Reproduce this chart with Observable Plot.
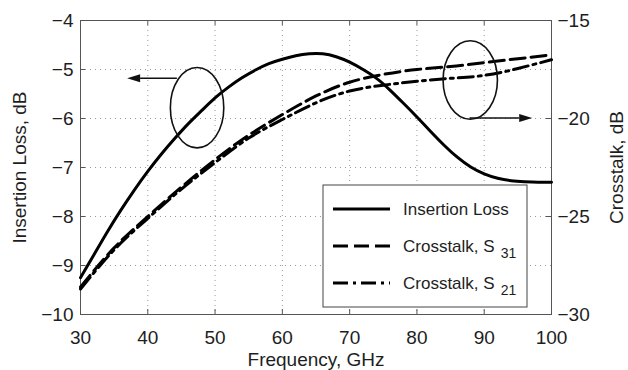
<!DOCTYPE html>
<html><head><meta charset="utf-8">
<script src="https://cdn.jsdelivr.net/npm/d3@7"></script>
<script src="https://cdn.jsdelivr.net/npm/@observablehq/plot@0.6"></script>
<style>body{margin:0;background:#fff}</style>
</head><body><div id="chart"></div>
<script>
// ---- data ----
const freqIL = [30,32,34,36,38,40,42,44,46,48,50,52,54,56,58,60,62,64,66,68,70,72,74,76,78,80,82,84,86,88,90,92,94,96,98,100];
const insertionLoss = [-9.25,-8.78,-8.31,-7.87,-7.46,-7.08,-6.73,-6.41,-6.11,-5.84,-5.58,-5.36,-5.17,-5.01,-4.88,-4.79,-4.72,-4.68,-4.68,-4.74,-4.85,-5.00,-5.18,-5.42,-5.69,-5.97,-6.26,-6.54,-6.79,-6.99,-7.13,-7.22,-7.27,-7.29,-7.30,-7.30];
const freqCT = [30,35,40,45,50,55,60,65,70,75,80,85,90,95,100];
const crosstalkS31 = [-28.6,-26.6,-25.0,-23.5,-22.1,-20.85,-19.8,-18.85,-18.15,-17.75,-17.5,-17.35,-17.15,-16.95,-16.75];
const crosstalkS21 = [-28.7,-26.7,-25.1,-23.6,-22.25,-21.0,-20.05,-19.2,-18.6,-18.3,-18.1,-17.95,-17.8,-17.45,-17.0];
const xTicks = [30,40,50,60,70,80,90,100];
const leftTicks = [-10,-9,-8,-7,-6,-5,-4];
const rightTicks = [-30,-25,-20,-15];
const seriesNames = ["Insertion Loss","Crosstalk, S","Crosstalk, S"];
const seriesSubs = [null,"31","21"];
// annotation ellipses (data units; right-axis values for the crosstalk one)
const annLeft = {cx:47.4, cy:-5.79, rx:3.97, ry:0.82, ay:-5.19, ax1:44.4, ax2:37.0};
const annRight = {cx:88.0, cyR:-18.06, rx:4.04, ryR:2.0, ayR:-20.0, ax1:87.9, ax2:97.2};

// right axis (-30..-15) mapped onto left axis (-10..-4)
const toLeft = r => -4 + (r + 15) * 0.4;
const fromLeft = v => Math.round((v + 4) / 0.4 - 15);
const fmt = n => (n < 0 ? "\u2212" : "") + Math.abs(n);

const ilData = freqIL.map((f,i) => ({f, v: insertionLoss[i]}));
const s31Data = freqCT.map((f,i) => ({f, v: toLeft(crosstalkS31[i])}));
const s21Data = freqCT.map((f,i) => ({f, v: toLeft(crosstalkS21[i])}));

const W = 628, H = 370, mL = 80, mR = 77, mT = 20, mB = 56;
const innerW = W - mL - mR, innerH = H - mT - mB;
const axisCol = "#555", textCol = "#1e1e1e", gridCol = "#9a9a9a";

const chart = Plot.plot({
  width: W, height: H,
  marginLeft: mL, marginRight: mR, marginTop: mT, marginBottom: mB,
  style: {fontFamily: "'Liberation Sans', Arial, sans-serif", fontSize: "19px", color: textCol, background: "#fff", overflow: "visible"},
  x: {domain: [30,100], label: null},
  y: {domain: [-10,-4], label: null},
  marks: [
    Plot.gridX(xTicks.slice(1,-1), {stroke: gridCol, strokeOpacity: 1, strokeDasharray: "1,4"}),
    Plot.gridY(leftTicks.slice(1,-1), {stroke: gridCol, strokeOpacity: 1, strokeDasharray: "1,4"}),
    Plot.frame({stroke: axisCol, strokeWidth: 1}),
    Plot.tickX(xTicks, {x: d => d, insetTop: innerH - 5, stroke: axisCol}),
    Plot.tickX(xTicks, {x: d => d, insetBottom: innerH - 5, stroke: axisCol}),
    Plot.tickY(leftTicks, {y: d => d, insetRight: innerW - 5, stroke: axisCol}),
    Plot.tickY(rightTicks.map(toLeft), {y: d => d, insetLeft: innerW - 5, stroke: axisCol}),
    Plot.axisX(xTicks, {tickSize: 0, tickPadding: 16, fill: textCol}),
    Plot.axisY(leftTicks, {anchor: "left", tickSize: 0, tickPadding: 7, fill: textCol, tickFormat: fmt}),
    Plot.axisY(rightTicks.map(toLeft), {anchor: "right", tickSize: 0, tickPadding: 6, fill: textCol, tickFormat: v => fmt(fromLeft(v))}),
    Plot.text(["Insertion Loss, dB"], {text: d => d, frameAnchor: "left", textAnchor: "middle", dx: -61, rotate: -90, lineAnchor: "middle", fill: textCol}),
    Plot.text(["Crosstalk, dB"], {text: d => d, frameAnchor: "right", textAnchor: "middle", dx: 65, rotate: -90, lineAnchor: "middle", fill: textCol}),
    Plot.text(["Frequency, GHz"], {text: d => d, frameAnchor: "bottom", textAnchor: "middle", dy: 45, lineAnchor: "middle", fill: textCol}),
    Plot.line(s21Data, {x: "f", y: "v", stroke: "#000", strokeWidth: 3, curve: "natural", strokeDasharray: "15,5,3,5"}),
    Plot.line(s31Data, {x: "f", y: "v", stroke: "#000", strokeWidth: 3, curve: "natural", strokeDasharray: "15,6"}),
    Plot.line(ilData, {x: "f", y: "v", stroke: "#000", strokeWidth: 3, curve: "natural"})
  ]
});

const sx = chart.scale("x"), sy = chart.scale("y");
const svg = d3.select(chart);

// annotations
function annotate(cx, cy, rx, ry, ay, ax1, ax2) {
  const g = svg.append("g");
  const px = sx.apply(cx), py = sy.apply(cy);
  const prx = Math.abs(sx.apply(cx + rx) - px), pry = Math.abs(sy.apply(cy + ry) - py);
  g.append("ellipse").attr("cx", px).attr("cy", py).attr("rx", prx).attr("ry", pry)
    .attr("fill", "none").attr("stroke", "#111").attr("stroke-width", 1.6);
  const y = sy.apply(ay), x1 = sx.apply(ax1), x2 = sx.apply(ax2);
  const dir = Math.sign(x2 - x1), L = 13, hw = 4;
  g.append("line").attr("x1", x1).attr("y1", y).attr("x2", x2 - dir * L).attr("y2", y)
    .attr("stroke", "#111").attr("stroke-width", 1.6);
  g.append("path").attr("d", `M${x2},${y}L${x2 - dir*L},${y - hw}L${x2 - dir*L},${y + hw}Z`).attr("fill", "#111");
}
annotate(annLeft.cx, annLeft.cy, annLeft.rx, annLeft.ry, annLeft.ay, annLeft.ax1, annLeft.ax2);
annotate(annRight.cx, toLeft(annRight.cyR), annRight.rx, annRight.ryR * 0.4, toLeft(annRight.ayR), annRight.ax1, annRight.ax2);

// legend (inside the frame, bottom-right)
const fr = W - mR, fb = H - mB;
const lg = svg.append("g").attr("font-family", "'Liberation Sans', Arial, sans-serif").attr("text-anchor", "start");
const bx = fr - 228, by = fb - 129, bw = 204, bh = 122;
lg.append("rect").attr("x", bx).attr("y", by).attr("width", bw).attr("height", bh)
  .attr("fill", "#fff").attr("stroke", "#444").attr("stroke-width", 1);
const dashes = [null, "15,6", "15,5,3,5"];
seriesNames.forEach((name, i) => {
  const yy = by + 24 + i * 37;
  const ln = lg.append("line").attr("x1", bx + 10).attr("x2", bx + 67).attr("y1", yy).attr("y2", yy)
    .attr("stroke", "#000").attr("stroke-width", 3);
  if (dashes[i]) ln.attr("stroke-dasharray", dashes[i]);
  const t = lg.append("text").attr("x", bx + 80).attr("y", yy).attr("dy", "0.35em")
    .attr("text-anchor", "start").attr("font-size", 17).attr("fill", textCol).text(name);
  if (seriesSubs[i]) t.append("tspan").attr("dx", 6).attr("dy", 6).attr("font-size", 14).text(seriesSubs[i]);
});

document.getElementById("chart").append(chart);
</script>
</body></html>
